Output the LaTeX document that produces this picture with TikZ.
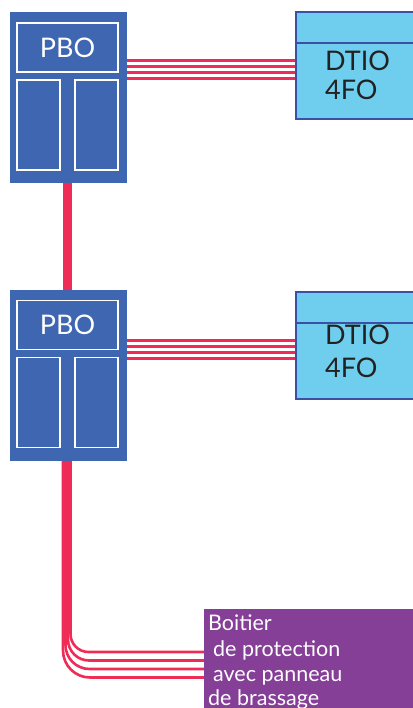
\documentclass[tikz,border=0pt]{standalone}
\usepackage{fontspec}
\setmainfont{Lato}
\definecolor{pboblue}{HTML}{3F66B0}
\definecolor{fibred}{HTML}{EE2C55}
\definecolor{dtiofill}{HTML}{6FCEEE}
\definecolor{dtioline}{HTML}{3B4FA6}
\definecolor{boxpurple}{HTML}{853F97}
\definecolor{darktext}{HTML}{222222}
\begin{document}
\begin{tikzpicture}[x=1pt,y=-1pt,
  pbo/.style={fill=pboblue,draw=none,inner sep=0pt,minimum width=117pt,minimum height=171pt},
  pbotop/.style={draw=white,line width=1.2pt,inner sep=0pt,minimum width=101pt,minimum height=49pt,text=white,font=\fontsize{27}{30}\selectfont},
  pbocell/.style={draw=white,line width=1.2pt,inner sep=0pt,minimum width=43pt,minimum height=90pt},
  dtio/.style={fill=dtiofill,draw=dtioline,line width=1.3pt,inner sep=0pt,minimum width=122pt,minimum height=107pt},
  dtiotext/.style={anchor=base west,inner sep=0pt,text=darktext,font=\fontsize{27}{30}\selectfont},
  boitier/.style={fill=boxpurple,draw=none,inner sep=0pt,minimum width=210pt,minimum height=100pt},
  boxtext/.style={anchor=base west,inner sep=0pt,text=white,font=\fontsize{21.5}{24}\selectfont},
  fib/.style={draw=fibred,line width=3pt},
  trunk/.style={draw=fibred,line width=9.5pt},
  thinfib/.style={draw=fibred,line width=2.6pt}
]
\useasboundingbox (0,0) rectangle (412,708);

% ---- PBO 1 ----
\node[pbo] (pbo1) at (68.5,97.5) {};
\node[pbotop] (pbo1t) at (67.5,47.5) {PBO};
\node[pbocell] (pbo1l) at (38.5,125) {};
\node[pbocell] (pbo1r) at (96.5,125) {};

% ---- PBO 2 ----
\node[pbo] (pbo2) at (68.5,375.5) {};
\node[pbotop] (pbo2t) at (67.5,325) {PBO};
\node[pbocell] (pbo2l) at (38.5,402.5) {};
\node[pbocell] (pbo2r) at (96.5,402.5) {};

% ---- DTIO 1 ----
\node[dtio] (dtio1) at (357,65.5) {};
\draw[dtioline,line width=1.3pt] (dtio1.west |- 0,43) -- (dtio1.east |- 0,43);
\node[dtiotext] (dtio1a) at (325,71) {DTIO};
\node[dtiotext] (dtio1b) at (325,100) {4FO};

% ---- DTIO 2 ----
\node[dtio] (dtio2) at (357,345.5) {};
\draw[dtioline,line width=1.3pt] (dtio2.west |- 0,323) -- (dtio2.east |- 0,323);
\node[dtiotext] (dtio2a) at (325,344) {DTIO};
\node[dtiotext] (dtio2b) at (325,377) {4FO};

% ---- Boitier ----
\node[boitier] (boit) at (309,659) {};
\node[boxtext] (b1) at (208,630) {Boitier};
\node[boxtext] (b2) at (213,656) {de protection};
\node[boxtext] (b3) at (213,681) {avec panneau};
\node[boxtext] (b4) at (208,705) {de brassage};

% ---- fibres PBO -> DTIO ----
\foreach \yy in {60.5,66.5,72.5,78.5}{
  \draw[fib] (pbo1.east |- 0,\yy) -- (dtio1.west |- 0,\yy);
}
\foreach \yy in {340.5,346.5,352.5,358.5}{
  \draw[fib] (pbo2.east |- 0,\yy) -- (dtio2.west |- 0,\yy);
}

% ---- trunk PBO1 -> PBO2 ----
\draw[trunk] (pbo1.south -| 67.3,0) -- (pbo2.north -| 67.3,0);

% ---- PBO2 -> Boitier ----
\coordinate (tk) at (67.3,543);
\draw[thinfib,rounded corners=18pt] (pbo2.south -| 70.5,0) -- (70.5,652) -- (boit.west |- 0,652);
\draw[thinfib,rounded corners=21pt] (pbo2.south -| 68,0) -- (68,660.5) -- (boit.west |- 0,660.5);
\draw[thinfib,rounded corners=24pt] (pbo2.south -| 65.5,0) -- (65.5,669) -- (boit.west |- 0,669);
\draw[thinfib,rounded corners=27pt] (pbo2.south -| 63,0) -- (63,677.5) -- (boit.west |- 0,677.5);
\draw[trunk] (pbo2.south -| tk) -- (tk);
\end{tikzpicture}
\end{document}
